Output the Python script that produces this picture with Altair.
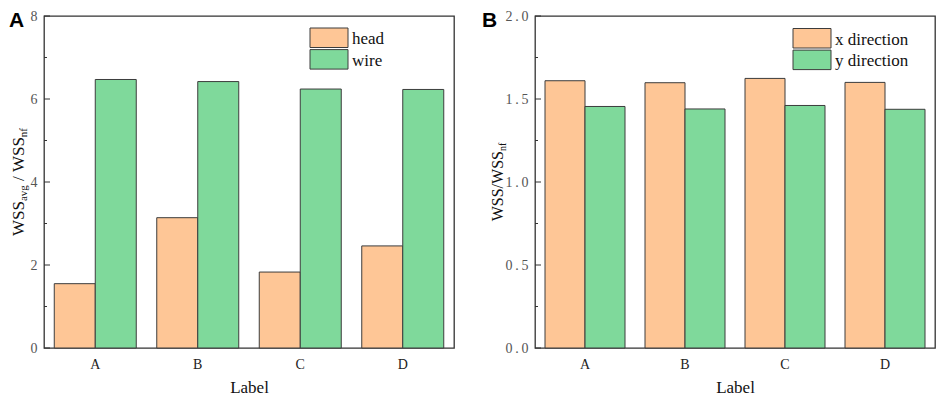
import altair as alt
import pandas as pd

# ---- data ----
labels = ["A", "B", "C", "D"]
head = [1.55, 3.14, 1.83, 2.46]
wire = [6.47, 6.42, 6.24, 6.23]
x_dir = [1.610, 1.598, 1.624, 1.600]
y_dir = [1.455, 1.440, 1.461, 1.438]
a_series = ["head", "wire"]
b_series = ["x direction", "y direction"]
a_major = [0, 2, 4, 6, 8]
a_minor = [1, 3, 5, 7]
b_major = [0.0, 0.5, 1.0, 1.5, 2.0]
b_minor = [0.25, 0.75, 1.25, 1.75]

ORANGE = "#FEC696"
GREEN = "#7FD99B"
EDGE = "#3c3c3c"
SERIF = "Liberation Serif"
SANS = "Liberation Sans"
H = 332


def long_table(s1, s2, names):
    rows = []
    for i, c in enumerate(labels):
        rows.append({"Label": c, "series": names[0], "value": s1[i]})
        rows.append({"Label": c, "series": names[1], "value": s2[i]})
    return pd.DataFrame(rows)


def text_layer(txt, x, y, size, font=SERIF, weight="normal", angle=0,
               baseline="alphabetic", color="#111"):
    return alt.Chart(pd.DataFrame({"t": [txt]})).mark_text(
        font=font, fontSize=size, fontWeight=weight, angle=angle,
        align="left", baseline=baseline, color=color
    ).encode(text="t:N", x=alt.value(x), y=alt.value(y))


def rotated_title(parts, base_x, height):
    # parts: (text, fontSize, is_sub, advance_width)
    total = sum(p[3] for p in parts)
    y = height / 2 + total / 2
    layers = []
    for txt, size, sub, w in parts:
        layers.append(text_layer(txt, base_x + (3 if sub else 0), y, size, angle=270))
        y -= w
    return layers


def legend_layers(names, cscale, lx, ly):
    layers = []
    for i, name in enumerate(names):
        top = ly + i * 21.6
        sw = alt.Chart(pd.DataFrame({"series": [name]})).mark_rect(
            stroke=EDGE, strokeWidth=1).encode(
            x=alt.value(lx), x2=alt.value(lx + 38),
            y=alt.value(top), y2=alt.value(top + 19.5),
            color=alt.Color("series:N", scale=cscale, legend=None))
        layers.append(sw)
        layers.append(text_layer(name, lx + 42, top + 16, 17))
    return layers


def panel(df, names, dom, major, minor, W, legx, legy, title_layers,
          letter, letter_x, label_expr):
    xsc = alt.Scale(domain=labels, paddingInner=0.2, paddingOuter=0.1)
    ysc = alt.Scale(domain=dom, nice=False, zero=True)
    csc = alt.Scale(domain=names, range=[ORANGE, GREEN])
    yaxis = alt.Axis(title=None, values=major, grid=False, ticks=False, domain=False,
                     labelFont=SERIF, labelFontSize=14, labelColor="#555",
                     labelPadding=7, labelExpr=label_expr)
    bars = alt.Chart(df).mark_bar(stroke=EDGE, strokeWidth=1).encode(
        x=alt.X("Label:N", scale=xsc, axis=alt.Axis(
            title="Label", labelAngle=0, ticks=False, domain=False,
            labelFont=SERIF, labelFontSize=14, labelColor="#222", labelPadding=9,
            titleFont=SERIF, titleFontSize=17, titleFontWeight="normal",
            titleColor="#111", titlePadding=8)),
        xOffset=alt.XOffset("series:N", scale=alt.Scale(domain=names, paddingInner=0, paddingOuter=0)),
        y=alt.Y("value:Q", scale=ysc, axis=yaxis),
        color=alt.Color("series:N", scale=csc, legend=None),
    )
    maj = alt.Chart(pd.DataFrame({"value": major})).mark_rule(color="#333", strokeWidth=1).encode(
        y=alt.Y("value:Q", scale=ysc, axis=yaxis), x=alt.value(0), x2=alt.value(6))
    mnr = alt.Chart(pd.DataFrame({"value": minor})).mark_rule(color="#333", strokeWidth=1).encode(
        y=alt.Y("value:Q", scale=ysc, axis=yaxis), x=alt.value(0), x2=alt.value(3))
    lab = text_layer(letter, letter_x, -6, 21, font=SANS, weight="bold",
                     baseline="top", color="#000")
    leg = legend_layers(names, csc, legx, legy)
    return alt.layer(bars, maj, mnr, *leg, *title_layers, lab).properties(width=W, height=H)


title_a = rotated_title([
    ("WSS", 17, False, 34.95),
    ("avg", 11, True, 15.9 + 4.2),
    ("/", 17, False, 4.7 + 4.2),
    ("WSS", 17, False, 34.95),
    ("nf", 11, True, 9.2),
], -20, H)

title_b = rotated_title([
    ("WSS/WSS", 16, False, 70.3),
    ("nf", 10, True, 8.3),
], -32, H)

pA = panel(long_table(head, wire, a_series), a_series, [0, 8], a_major, a_minor,
           410, 266, 12, title_a, "A", -35, "format(datum.value, 'd')")
pB = panel(long_table(x_dir, y_dir, b_series), b_series, [0, 2], b_major, b_minor,
           400, 258, 12.5, title_b, "B", -53,
           "replace(format(datum.value, '.1f'), '.', '\u2009.\u2009')")

chart = alt.hconcat(pA, pB, spacing=26).resolve_scale(
    color="independent", xOffset="independent", x="independent", y="independent"
).properties(padding=0).configure_view(
    stroke="#333", strokeWidth=1.3
).configure_axis(labelFont=SERIF, titleFont=SERIF).configure_text(font=SERIF)

chart.save("out.html", embed_options={"renderer": "svg", "actions": False})
